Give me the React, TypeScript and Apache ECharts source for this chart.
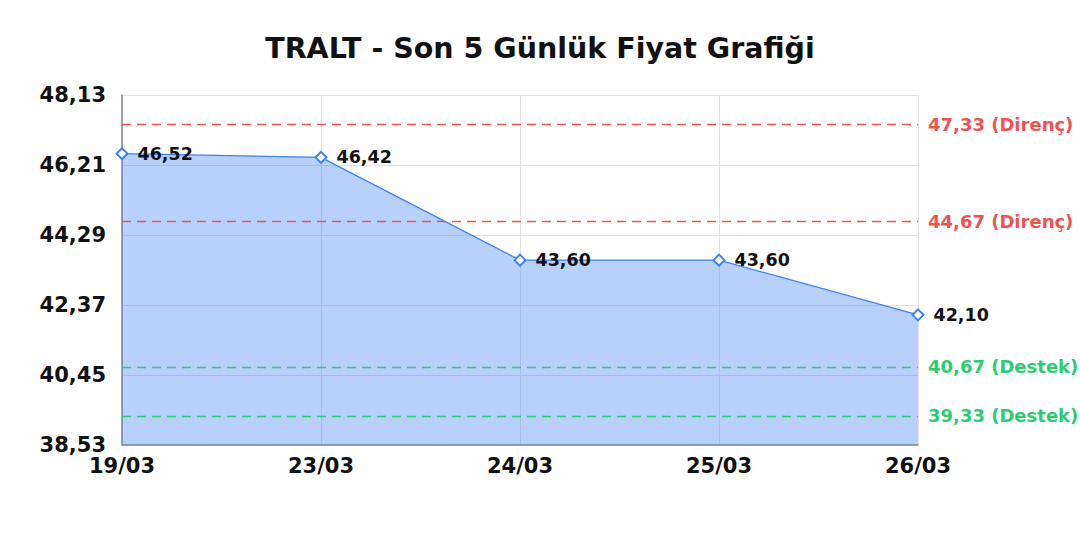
import { useEffect, useRef } from 'react'
import * as echarts from 'echarts'

const dates = ['19/03', '23/03', '24/03', '25/03', '26/03']
const prices = [46.52, 46.42, 43.6, 43.6, 42.1]
const yTicks = [38.53, 40.45, 42.37, 44.29, 46.21, 48.13]
const resistance = [47.33, 44.67]
const support = [40.67, 39.33]

const fmt = (v: number) => v.toFixed(2).replace('.', ',')
const font = 'DejaVu Sans'

export default function App() {
  const chartRef = useRef<HTMLDivElement | null>(null)

  useEffect(() => {
    if (!chartRef.current) {
      return undefined
    }
    const chart = echarts.init(chartRef.current, undefined, { renderer: 'svg' })

    const levelLine = (value: number, kind: string, color: string) => ({
      yAxis: value,
      lineStyle: { color, type: [9, 6], width: 1.4 },
      label: {
        formatter: `${fmt(value)} (${kind})`,
        color,
        fontFamily: font,
        fontWeight: 'bold',
        fontSize: 18,
        position: 'end',
        distance: 10,
      },
    })

    chart.setOption({
      animation: false,
      backgroundColor: '#ffffff',
      textStyle: { fontFamily: font },
      title: {
        text: 'TRALT - Son 5 Günlük Fiyat Grafiği',
        left: 'center',
        top: 29,
        textStyle: { fontFamily: font, fontWeight: 'bold', fontSize: 28.5, color: '#111111' },
      },
      grid: { left: 122, right: 162, top: 95, bottom: 95 },
      xAxis: {
        type: 'category',
        data: dates,
        boundaryGap: false,
        axisLine: { lineStyle: { color: '#888888', width: 1.5 } },
        axisTick: { show: false },
        axisLabel: { color: '#111111', fontFamily: font, fontWeight: 'bold', fontSize: 21, margin: 10 },
        splitLine: { show: true, lineStyle: { color: '#e3e3e3' } },
      },
      yAxis: {
        type: 'value',
        min: yTicks[0],
        max: yTicks[yTicks.length - 1],
        axisLine: { show: true, lineStyle: { color: '#888888', width: 1.5 } },
        axisTick: { show: false, customValues: yTicks },
        axisLabel: {
          customValues: yTicks,
          formatter: (v: number) => fmt(v),
          color: '#111111',
          fontFamily: font,
          fontWeight: 'bold',
          fontSize: 21,
          margin: 16,
        },
        splitLine: { show: true, lineStyle: { color: '#e3e3e3' } },
      },
      series: [
        {
          type: 'line',
          data: prices,
          symbol: 'diamond',
          symbolSize: 11,
          lineStyle: { color: '#3b82f6', width: 1.2 },
          itemStyle: { color: '#ffffff', borderColor: '#3b82f6', borderWidth: 2 },
          areaStyle: { color: '#3b82f6', opacity: 0.37 },
          label: {
            show: true,
            position: 'right',
            distance: 9,
            formatter: (p: { value: number }) => fmt(p.value),
            color: '#111111',
            fontFamily: font,
            fontWeight: 'bold',
            fontSize: 17.5,
          },
          markLine: {
            symbol: 'none',
            silent: true,
            data: [
              ...resistance.map((v) => levelLine(v, 'Direnç', '#ef5350')),
              ...support.map((v) => levelLine(v, 'Destek', '#2ecc71')),
            ],
          },
        },
      ],
    })

    return () => {
      chart.dispose()
    }
  }, [])

  return <div ref={chartRef} style={{ position: 'fixed', left: 0, top: 0, width: 1080, height: 540 }} />
}
